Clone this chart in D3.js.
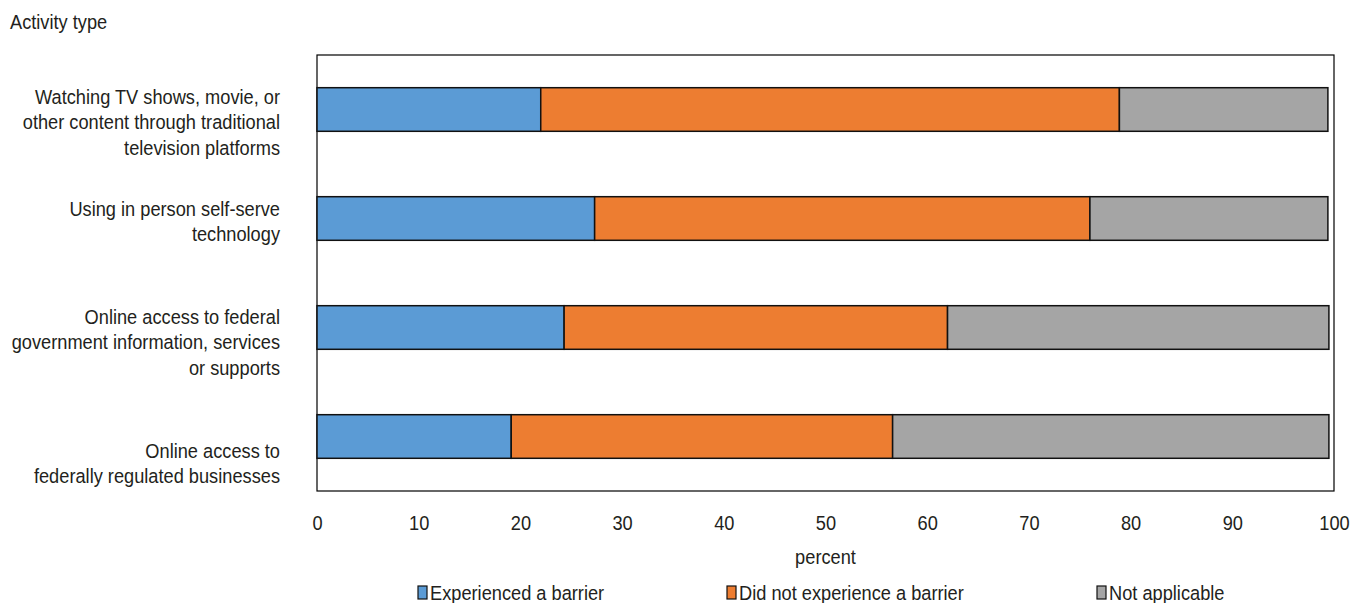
<!DOCTYPE html>
<html>
<head>
<meta charset="utf-8">
<script src="https://cdn.jsdelivr.net/npm/d3@7"></script>
<style>
  html, body { margin: 0; padding: 0; background: #fff; }
  svg { display: block; }
  text { font-family: "Liberation Sans", Arial, sans-serif; fill: #231f20; font-size: 19.5px; }
</style>
</head>
<body>
<svg id="chart" width="1362" height="603"></svg>
<script>
// Activity types (top to bottom), each split into lines for the axis label
const categories = [
  "Watching TV shows, movie, or other content through traditional television platforms",
  "Using in person self-serve technology",
  "Online access to federal government information, services or supports",
  "Online access to federally regulated businesses"
];
const categoryLines = [
  ["Watching TV shows, movie, or", "other content through traditional", "television platforms"],
  ["Using in person self-serve", "technology"],
  ["Online access to federal", "government information, services", "or supports"],
  ["Online access to", "federally regulated businesses"]
];
const seriesNames = ["Experienced a barrier", "Did not experience a barrier", "Not applicable"];
const experienced = [22.0, 27.3, 24.3, 19.1];
const notExperienced = [56.9, 48.7, 37.7, 37.5];
const notApplicable = [20.5, 23.4, 37.5, 42.9];
const xTicks = [0, 10, 20, 30, 40, 50, 60, 70, 80, 90, 100];

const colors = ["#5b9bd5", "#ed7d31", "#a5a5a5"];
// Condensed lettering: regular sans squeezed horizontally
const narrow = 0.935;

const svg = d3.select("#chart");
const plot = { left: 317, right: 1334, top: 55, bottom: 491 };

const x = d3.scaleLinear().domain([0, 100]).range([plot.left, plot.right]);
const y = d3.scaleBand().domain(categories).range([plot.top, plot.bottom])
  .paddingInner(0.6).paddingOuter(0.3);

// Stack the three series per activity
const rows = categories.map((c, i) => ({
  category: c,
  [seriesNames[0]]: experienced[i],
  [seriesNames[1]]: notExperienced[i],
  [seriesNames[2]]: notApplicable[i]
}));
const stacked = d3.stack().keys(seriesNames)(rows);

// Plot frame
svg.append("rect")
  .attr("x", plot.left).attr("y", plot.top)
  .attr("width", plot.right - plot.left).attr("height", plot.bottom - plot.top)
  .attr("fill", "none").attr("stroke", "#000").attr("stroke-width", 1.2);

// Bars
svg.append("g").selectAll("g")
  .data(stacked)
  .join("g")
  .attr("fill", (d, i) => colors[i])
  .selectAll("rect")
  .data(d => d)
  .join("rect")
  .attr("x", d => x(d[0]))
  .attr("y", d => y(d.data.category))
  .attr("width", d => x(d[1]) - x(d[0]))
  .attr("height", y.bandwidth())
  .attr("stroke", "#111")
  .attr("stroke-width", 1.5);

// Places a condensed text at (px, py)
function placeText(sel, px, py) {
  sel.attr("x", 0).attr("y", 0)
    .attr("transform", `translate(${px},${py}) scale(${narrow},1)`);
}

// X axis labels (no tick marks or domain line)
const xAxis = svg.append("g")
  .attr("transform", `translate(0,${plot.bottom})`)
  .call(d3.axisBottom(x).tickValues(xTicks).tickSize(0).tickPadding(0).tickFormat(d3.format("d")));
xAxis.select(".domain").remove();
xAxis.attr("font-family", null).attr("font-size", null);
xAxis.selectAll(".tick text")
  .attr("dy", null)
  .attr("fill", "#231f20")
  .each(function () { placeText(d3.select(this), 0, 39); });

placeText(svg.append("text").attr("text-anchor", "middle").text("percent"),
  (plot.left + plot.right) / 2, 564);

// Y axis title
placeText(svg.append("text").text("Activity type"), 10, 29);

// Category labels, right aligned against the plot
const lineHeight = 25.5;
const labelShift = [13, 3, 15, 27];
svg.append("g").selectAll("text")
  .data(categories)
  .join("text")
  .attr("text-anchor", "end")
  .attr("transform", `translate(280,0) scale(${narrow},1)`)
  .each(function (c, i) {
    const lines = categoryLines[i];
    const center = y(c) + y.bandwidth() / 2 + labelShift[i];
    const first = center - (lines.length - 1) * lineHeight / 2 + 7;
    d3.select(this).selectAll("tspan")
      .data(lines)
      .join("tspan")
      .attr("x", 0)
      .attr("y", (l, j) => first + j * lineHeight)
      .text(l => l);
  });

// Legend
const legendX = [418, 727, 1097];
const legend = svg.append("g").selectAll("g")
  .data(seriesNames)
  .join("g")
  .attr("transform", (d, i) => `translate(${legendX[i]},586)`);
legend.append("rect")
  .attr("width", 9).attr("height", 13)
  .attr("fill", (d, i) => colors[i])
  .attr("stroke", "#111").attr("stroke-width", 1.2);
legend.append("text")
  .text(d => d)
  .each(function () { placeText(d3.select(this), 12, 13.5); });
</script>
</body>
</html>
